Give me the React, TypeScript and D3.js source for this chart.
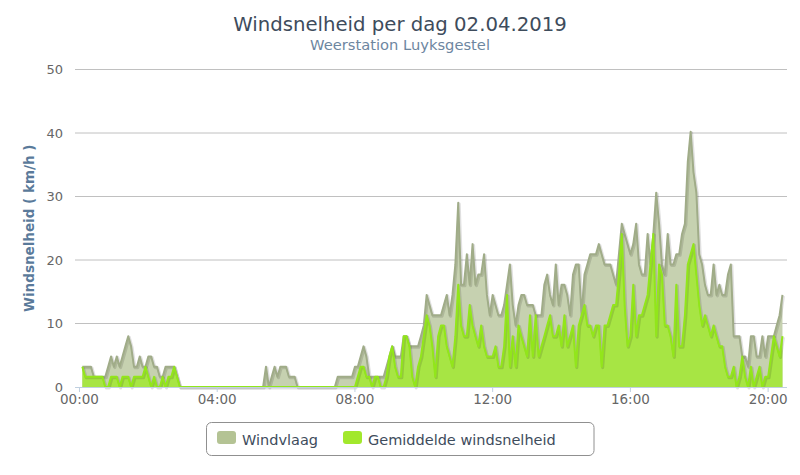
import React from 'react';
import * as d3 from 'd3';

// Wind gusts (km/h), 5-minute samples, blocks of 4 hours starting 00:05, 04:05, 08:05, 12:05, 16:05
const gust0004 = [3.2,3.2,3.2,3.2,1.6,1.6,1.6,1.6,1.6,3.2,4.8,3.2,4.8,3.2,4.8,6.4,8,6.4,3.2,3.2,4.8,3.2,3.2,4.8,4.8,3.2,3.2,1.6,1.6,3.2,3.2,3.2,3.2,1.6,0,0,0,0,0,0,0,0,0,0,0,0,0,0];
const gust0408 = [0,0,0,0,0,0,0,0,0,0,0,0,0,0,0,0,3.2,0,1.6,3.2,1.6,3.2,3.2,3.2,1.6,1.6,1.6,0,0,0,0,0,0,0,0,0,0,0,0,0,0,1.6,1.6,1.6,1.6,1.6,1.6,3.2];
const gust0812 = [3.2,4.8,6.4,4.8,1.6,1.6,1.6,1.6,1.6,1.6,3.2,4.8,6.4,4.8,4.8,4.8,8,8,6.4,6.4,6.4,6.4,8,9.7,14.5,12.9,11.3,11.3,11.3,11.3,12.9,14.5,11.3,14.5,19.3,29,16.1,16.1,20.9,16.1,22.5,16.1,17.7,17.7,20.9,14.5,11.3,14.5];
const gust1216 = [12.9,11.3,11.3,12.9,16.1,19.3,12.9,9.7,12.9,14.5,14.5,12.9,12.9,12.9,11.3,11.3,11.3,16.1,17.7,14.5,12.9,19.3,12.9,16.1,16.1,14.5,11.3,17.7,19.3,19.3,11.3,17.7,19.3,20.9,20.9,20.9,22.5,20.9,19.3,19.3,19.3,17.7,16.1,20.9,25.7,24.1,22.5,20.9];
const gust1621 = [22.5,25.7,19.3,17.7,17.7,24.1,19.3,24.1,30.6,25.7,19.3,17.7,24.1,19.3,19.3,20.9,20.9,24.1,25.7,35.4,40.2,33.8,30.6,20.9,19.3,16.1,14.5,14.5,19.3,14.5,16.1,14.5,14.5,17.7,19.3,8,8,8,4.8,4.8,3.2,8,8,4.8,4.8,8,4.8,8,8,8,9.7,11.3,14.5];

// Average wind speed (km/h), same timestamps
const avg0004 = [3.2,1.6,1.6,1.6,1.6,1.6,1.6,1.6,0,0,1.6,1.6,1.6,0,1.6,1.6,1.6,0,1.6,1.6,1.6,1.6,3.2,1.6,0,1.6,0,0,1.6,0,1.6,1.6,3.2,1.6,0,0,0,0,0,0,0,0,0,0,0,0,0,0];
const avg0408 = [0,0,0,0,0,0,0,0,0,0,0,0,0,0,0,0,0,0,0,0,0,0,0,0,0,0,0,0,0,0,0,0,0,0,0,0,0,0,0,0,0,0,0,0,0,0,0,0];
const avg0812 = [1.6,3.2,3.2,1.6,1.6,0,1.6,1.6,0,0,1.6,4.8,6.4,3.2,1.6,1.6,8,8,6.4,1.6,0,3.2,4.8,8,11.3,9.7,6.4,1.6,8,9.7,9.7,6.4,4.8,3.2,8,16.1,9.7,8,8,12.9,9.7,8,6.4,9.7,6.4,4.8,4.8,4.8];
const avg1216 = [6.4,3.2,3.2,6.4,14.5,3.2,8,3.2,9.7,8,6.4,4.8,11.3,4.8,11.3,4.8,6.4,8,9.7,11.3,8,8,9.7,6.4,11.3,6.4,8,9.7,3.2,9.7,11.3,12.9,9.7,9.7,8,9.7,9.7,3.2,9.7,9.7,11.3,12.9,12.9,17.7,24.1,12.9,6.4,8];
const avg1621 = [16.1,8,11.3,11.3,12.9,14.5,19.3,24.1,8,19.3,17.7,9.7,9.7,8,4.8,16.1,6.4,6.4,11.3,19.3,20.9,22.5,17.7,12.9,9.7,11.3,9.7,8,9.7,8,6.4,6.4,3.2,1.6,1.6,3.2,0,1.6,4.8,1.6,0,3.2,0,1.6,3.2,0,1.6,1.6,4.8,8,6.4,4.8,8];

const yTicks = [0, 10, 20, 30, 40, 50];
const xTickHours = [0, 4, 8, 12, 16, 20];
const seriesNames = ['Windvlaag', 'Gemiddelde windsnelheid'];
const titleText = 'Windsnelheid per dag 02.04.2019';
const subtitleText = 'Weerstation Luyksgestel';
const yTitle = 'Windsnelheid ( km/h )';

const FONT = '"DejaVu Sans", Verdana, sans-serif';
const plot = { left: 75, right: 787, top: 69.5, bottom: 387 };

export default function App() {
  const gust = [...gust0004, ...gust0408, ...gust0812, ...gust1216, ...gust1621];
  const avg = [...avg0004, ...avg0408, ...avg0812, ...avg1216, ...avg1621];
  const day = new Date(2019, 3, 2, 0, 0, 0).getTime();
  const timeAt = (min: number) => new Date(day + min * 60000);
  const x = d3.scaleTime().domain([timeAt(-7.8), timeAt(1232.9)]).range([plot.left, plot.right]);
  const y = d3.scaleLinear().domain([0, 50]).range([plot.bottom, plot.top]);
  const pts = gust.map((g, i) => ({ t: timeAt(5 + 5 * i), g, a: avg[i] }));
  const fmt = d3.timeFormat('%H:%M');

  const areaG = d3.area<any>().x(d => x(d.t)).y0(y(0)).y1(d => y(d.g))(pts) || '';
  const lineG = d3.line<any>().x(d => x(d.t)).y(d => y(d.g))(pts) || '';
  const areaA = d3.area<any>().x(d => x(d.t)).y0(y(0)).y1(d => y(d.a))(pts) || '';
  const lineA = d3.line<any>().x(d => x(d.t)).y(d => y(d.a))(pts) || '';

  const gustLine = '#A0AC88';
  const gustFill = '#C6D1B0';
  const avgLine = '#92E61A';
  const avgFill = '#A7E544';

  return (
    <div style={{ position: 'absolute', left: 0, top: 0 }}>
      <svg width={800} height={475} style={{ display: 'block', background: '#fff' }} fontFamily={FONT}>
        <text x={400} y={31} textAnchor="middle" fontSize={19.7} fill="#3E4C5C">{titleText}</text>
        <text x={400} y={50} textAnchor="middle" fontSize={14.7} fill="#6D869F">{subtitleText}</text>

        {yTicks.map(v => (
          <g key={v}>
            {v > 0 && <line x1={plot.left} x2={plot.right} y1={y(v)} y2={y(v)} stroke="#C0C0C0" strokeWidth={1} />}
            <text x={63} y={y(v)} dy="0.36em" textAnchor="end" fontSize={13} fill="#666">{v}</text>
          </g>
        ))}

        <text transform={`translate(34,${(plot.top + plot.bottom) / 2}) rotate(-90)`} textAnchor="middle"
          fontSize={13.5} fontWeight="bold" fill="#5A7A9A">{yTitle}</text>

        {/* gust series */}
        <path d={areaG} fill={gustFill} />
        <path d={lineG} fill="none" stroke="#000" strokeOpacity={0.12} strokeWidth={3} transform="translate(1,1)" strokeLinejoin="round" />
        <path d={lineG} fill="none" stroke={gustLine} strokeWidth={2} strokeLinejoin="round" />

        {/* average series */}
        <path d={areaA} fill={avgFill} />
        <path d={lineA} fill="none" stroke="#000" strokeOpacity={0.12} strokeWidth={3} transform="translate(1,1)" strokeLinejoin="round" />
        <path d={lineA} fill="none" stroke={avgLine} strokeWidth={2} strokeLinejoin="round" />

        {/* x axis */}
        <line x1={plot.left} x2={plot.right} y1={plot.bottom + 0.5} y2={plot.bottom + 0.5} stroke="#C0D0E0" strokeWidth={1} />
        {xTickHours.map(h => {
          const t = timeAt(h * 60);
          return (
            <g key={h}>
              <line x1={x(t)} x2={x(t)} y1={plot.bottom} y2={plot.bottom + 5} stroke="#C0D0E0" strokeWidth={1} />
              <text x={x(t)} y={404} textAnchor="middle" fontSize={13.5} fill="#666">{fmt(t)}</text>
            </g>
          );
        })}

        {/* legend */}
        <rect x={206.5} y={422.5} width={387.5} height={33} rx={5} fill="#fff" stroke="#909090" strokeWidth={1} />
        <rect x={217} y={431} width={19} height={13} rx={3} fill="#B4C394" />
        <text x={242} y={444.5} fontSize={14.5} fill="#3E4C5C">{seriesNames[0]}</text>
        <rect x={343} y={431} width={19} height={13} rx={3} fill="#A2E82C" />
        <text x={368} y={444.5} fontSize={14.5} fill="#3E4C5C">{seriesNames[1]}</text>
      </svg>
    </div>
  );
}
